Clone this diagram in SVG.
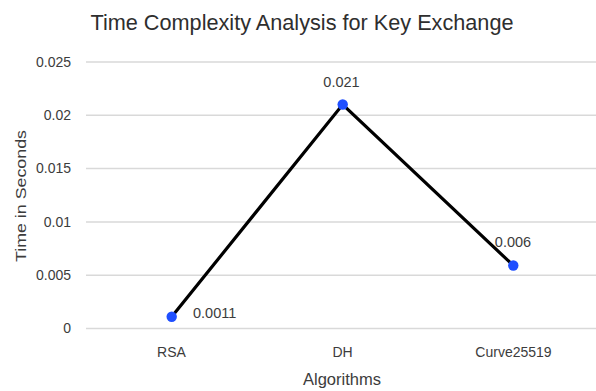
<svg xmlns="http://www.w3.org/2000/svg" width="596" height="391" viewBox="0 0 596 391">
<style>
text{font-family:"Liberation Sans",Arial,sans-serif;fill:#3c3c3c}
.grid{stroke:#d9d9d9;stroke-width:1.5}
.tick{font-size:14px;text-anchor:end}
.cat{font-size:14px;text-anchor:middle}
.dl{font-size:14.5px}
.pt{fill:#1f4fff}
</style>
<rect width="596" height="391" fill="#ffffff"/>
<text x="302" y="30" font-size="22.5" text-anchor="middle" textLength="423" lengthAdjust="spacingAndGlyphs" style="fill:#2e2e2e">Time Complexity Analysis for Key Exchange</text>
<g id="grid">
<line class="grid" x1="86" y1="62" x2="596" y2="62"/>
<line class="grid" x1="86" y1="115.3" x2="596" y2="115.3"/>
<line class="grid" x1="86" y1="168.6" x2="596" y2="168.6"/>
<line class="grid" x1="86" y1="221.9" x2="596" y2="221.9"/>
<line class="grid" x1="86" y1="275.2" x2="596" y2="275.2"/>
<line class="grid" x1="86" y1="328.5" x2="596" y2="328.5"/>
</g>
<g id="y-ticks">
<text class="tick" x="71" y="66.8">0.025</text>
<text class="tick" x="71" y="120.1">0.02</text>
<text class="tick" x="71" y="173.4">0.015</text>
<text class="tick" x="71" y="226.7">0.01</text>
<text class="tick" x="71" y="280">0.005</text>
<text class="tick" x="71" y="333.3">0</text>
</g>
<text transform="translate(26,196) rotate(-90)" font-size="15.5" text-anchor="middle" textLength="132" lengthAdjust="spacingAndGlyphs">Time in Seconds</text>
<g id="x-cats">
<text class="cat" x="171.5" y="357">RSA</text>
<text class="cat" x="342.5" y="357">DH</text>
<text class="cat" x="513.5" y="357">Curve25519</text>
</g>
<text x="342" y="385" font-size="16" text-anchor="middle" textLength="78" lengthAdjust="spacingAndGlyphs">Algorithms</text>
<g id="connectors">
<polyline points="171.7,316.8 342.7,104.5 513.3,265.5" fill="none" stroke="#000" stroke-width="3.2" stroke-linejoin="miter"/>
</g>
<g id="node-rsa">
<circle class="pt" cx="171.7" cy="316.8" r="5.2"/>
<text class="dl" x="193" y="317.5">0.0011</text>
</g>
<g id="node-dh">
<circle class="pt" cx="342.7" cy="104.5" r="5.2"/>
<text class="dl" x="341.5" y="87" text-anchor="middle">0.021</text>
</g>
<g id="node-curve">
<circle class="pt" cx="513.3" cy="265.5" r="5.2"/>
<text class="dl" x="513" y="246.5" text-anchor="middle">0.006</text>
</g>
</svg>
